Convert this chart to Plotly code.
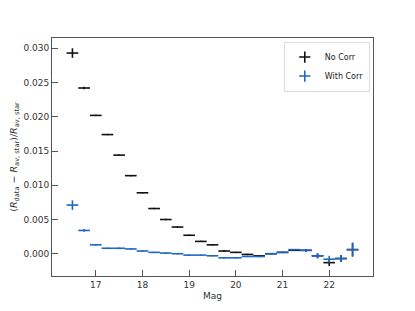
import plotly.graph_objects as go

mag = [16.5, 16.75, 17.0, 17.25, 17.5, 17.75, 18.0, 18.25, 18.5, 18.75,
       19.0, 19.25, 19.5, 19.75, 20.0, 20.25, 20.5, 20.75, 21.0, 21.25,
       21.5, 21.75, 22.0, 22.25, 22.5]
mag_halfwidth = [0.125] * len(mag)

no_corr = [0.0293, 0.0242, 0.0202, 0.0174, 0.0144, 0.0114, 0.0089, 0.0066, 0.0050, 0.0039,
           0.0027, 0.0018, 0.0013, 0.0004, 0.0002, -0.0001, -0.0003, 0.0000, 0.0002, 0.0005,
           0.0005, -0.0003, -0.0013, -0.0007, 0.0006]
no_corr_err = [0.0007, 0.0002, 0.0001, 0.0001, 0.0001, 0.0001, 0.0001, 0.0001, 0.0001, 0.0001,
               0.0001, 0.0001, 0.0001, 0.0001, 0.0001, 0.0001, 0.0001, 0.0001, 0.0001, 0.0001,
               0.0002, 0.0003, 0.0005, 0.0005, 0.0010]

with_corr = [0.0071, 0.0034, 0.0013, 0.0008, 0.0008, 0.0007, 0.0004, 0.0002, 0.0001, 0.0000,
             -0.0002, -0.0002, -0.0003, -0.0006, -0.0006, -0.0004, -0.0004, 0.0000, 0.0002, 0.0006,
             0.0005, -0.0003, -0.0008, -0.0007, 0.0006]
with_corr_err = [0.0007, 0.0002, 0.0001, 0.0001, 0.0001, 0.0001, 0.0001, 0.0001, 0.0001, 0.0001,
                 0.0001, 0.0001, 0.0001, 0.0001, 0.0001, 0.0001, 0.0001, 0.0001, 0.0001, 0.0001,
                 0.0002, 0.0004, 0.0005, 0.0005, 0.0010]

x_ticks = [17, 18, 19, 20, 21, 22]
y_ticks = [0.000, 0.005, 0.010, 0.015, 0.020, 0.025, 0.030]

BLACK = "#111111"
BLUE = "#1f66c4"

fig = go.Figure()

for name, y, err, col in [("No Corr", no_corr, no_corr_err, BLACK),
                          ("With Corr", with_corr, with_corr_err, BLUE)]:
    fig.add_trace(go.Scatter(
        x=mag, y=y, mode="markers", showlegend=False,
        marker=dict(size=1, color=col, opacity=0),
        error_x=dict(type="data", array=mag_halfwidth, color=col, thickness=1.6, width=0),
        error_y=dict(type="data", array=err, color=col, thickness=1.6, width=0),
    ))

for name, col in [("No Corr", BLACK), ("With Corr", BLUE)]:
    fig.add_trace(go.Scatter(
        x=[None], y=[None], mode="markers", name=name,
        marker=dict(symbol="cross-thin", size=8, color=col, line=dict(color=col, width=1.6)),
    ))

axis_common = dict(
    showline=True, linecolor="#555555", linewidth=1, mirror=True,
    ticks="inside", ticklen=6, tickwidth=1, tickcolor="#555555",
    showgrid=False, zeroline=False, automargin=False,
    tickfont=dict(family="DejaVu Sans", size=9, color="#333333"),
)

# page body has a default 8px margin, so the figure is sized to fit the window
fig.update_layout(
    width=407, height=303,
    margin=dict(l=44, r=42, t=30, b=35),
    paper_bgcolor="white", plot_bgcolor="white",
    font=dict(family="DejaVu Sans", size=9, color="#333333"),
    xaxis=dict(range=[16.0625, 22.9375], tickvals=x_ticks,
               title=dict(text="Mag", font=dict(size=9), standoff=3), **axis_common),
    yaxis=dict(range=[-0.00325, 0.0315], tickvals=y_ticks, tickformat=".3f",
               title=dict(text="(<i>R</i><sub>data</sub> − <i>R</i><sub>av, star</sub>)/<i>R</i><sub>av, star</sub>",
                          font=dict(size=9.5), standoff=4), **axis_common),
    legend=dict(x=0.99, y=0.985, xanchor="right", yanchor="top",
                bgcolor="white", bordercolor="#dddddd", borderwidth=1,
                font=dict(size=8, color="#222222"), itemwidth=30,
                tracegroupgap=0),
)

fig.write_html("out.html")
